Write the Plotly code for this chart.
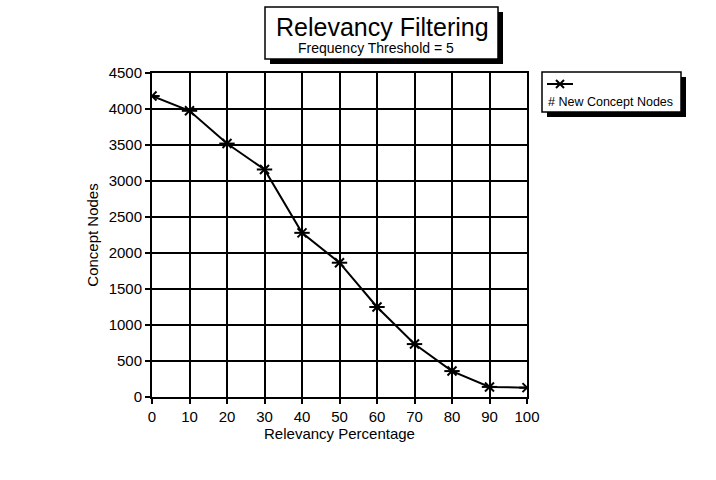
import plotly.graph_objects as go

relevancy = [0, 10, 20, 30, 40, 50, 60, 70, 80, 90, 100]
concept_nodes = [4180, 3975, 3520, 3160, 2280, 1865, 1250, 735, 360, 140, 130]
series_name = "# New Concept Nodes"
x_ticks = [0, 10, 20, 30, 40, 50, 60, 70, 80, 90, 100]
y_ticks = [0, 500, 1000, 1500, 2000, 2500, 3000, 3500, 4000, 4500]

W, H = 716, 480
FONT = "Liberation Sans, Arial, sans-serif"

def px(x):
    return x / W

def py(y):
    return (H - y) / H

fig = go.Figure()

fig.add_trace(go.Scatter(
    x=relevancy, y=concept_nodes, mode="lines+markers", name=series_name,
    line=dict(color="black", width=2),
    marker=dict(symbol="x-thin-open", size=9, color="black", line=dict(color="black", width=2)),
    showlegend=False))
fig.add_trace(go.Scatter(
    x=relevancy, y=concept_nodes, mode="markers",
    marker=dict(symbol="line-ew-open", size=11, color="black", line=dict(color="black", width=2)),
    showlegend=False, hoverinfo="skip"))

# legend sample marker
fig.add_trace(go.Scatter(
    x=[0.5], y=[0.5], mode="markers", xaxis="x2", yaxis="y2", cliponaxis=False,
    marker=dict(symbol="x-thin-open", size=8, color="black", line=dict(color="black", width=2)),
    showlegend=False, hoverinfo="skip"))

axis_common = dict(
    showgrid=True, gridcolor="black", gridwidth=1.5,
    showline=True, linecolor="black", linewidth=2, mirror=True,
    ticks="outside", ticklen=5, tickcolor="black", tickwidth=1.5,
    zeroline=False, automargin=False,
    tickfont=dict(family=FONT, size=15, color="black"),
)

fig.update_layout(
    width=W, height=H,
    margin=dict(l=0, r=0, t=0, b=0),
    paper_bgcolor="white", plot_bgcolor="white",
    font=dict(family=FONT, color="black"),
    xaxis=dict(
        domain=[px(152), px(527)], range=[0, 100],
        tickvals=x_ticks, ticktext=[str(v) for v in x_ticks],
        title=dict(text="Relevancy Percentage", font=dict(family=FONT, size=15), standoff=4),
        **axis_common),
    yaxis=dict(
        domain=[py(397), py(73)], range=[0, 4500],
        tickvals=y_ticks, ticktext=[str(v) for v in y_ticks],
        title=dict(text="Concept Nodes", font=dict(family=FONT, size=15), standoff=6),
        **axis_common),
    xaxis2=dict(domain=[px(547), px(573)], range=[0, 1], visible=False, anchor="y2"),
    yaxis2=dict(domain=[py(89), py(79)], range=[0, 1], visible=False, anchor="x2"),
    shapes=[
        # title shadow + box
        dict(type="rect", xref="paper", yref="paper",
             x0=px(270), x1=px(503), y0=py(12), y1=py(64),
             fillcolor="black", line=dict(width=0), layer="above"),
        dict(type="rect", xref="paper", yref="paper",
             x0=px(265), x1=px(498), y0=py(7), y1=py(59),
             fillcolor="white", line=dict(color="black", width=1.5), layer="above"),
        # legend shadow + box
        dict(type="rect", xref="paper", yref="paper",
             x0=px(547), x1=px(686), y0=py(77), y1=py(117),
             fillcolor="black", line=dict(width=0), layer="below"),
        dict(type="rect", xref="paper", yref="paper",
             x0=px(542), x1=px(681), y0=py(72), y1=py(112),
             fillcolor="white", line=dict(color="black", width=1.5), layer="below"),
        # legend sample line
        dict(type="line", xref="paper", yref="paper",
             x0=px(547), x1=px(573), y0=py(84), y1=py(84),
             line=dict(color="black", width=2), layer="above"),
    ],
    annotations=[
        dict(text="Relevancy Filtering", xref="paper", yref="paper",
             x=px(382), y=py(27), xanchor="center", yanchor="middle",
             showarrow=False, font=dict(family=FONT, size=25, color="black")),
        dict(text="Frequency Threshold = 5", xref="paper", yref="paper",
             x=px(376), y=py(48), xanchor="center", yanchor="middle",
             showarrow=False, font=dict(family=FONT, size=14, color="black")),
        dict(text=series_name, xref="paper", yref="paper",
             x=px(546), y=py(102), xanchor="left", yanchor="middle",
             showarrow=False, font=dict(family=FONT, size=12.5, color="black")),
    ],
)

fig.write_html("out.html")
